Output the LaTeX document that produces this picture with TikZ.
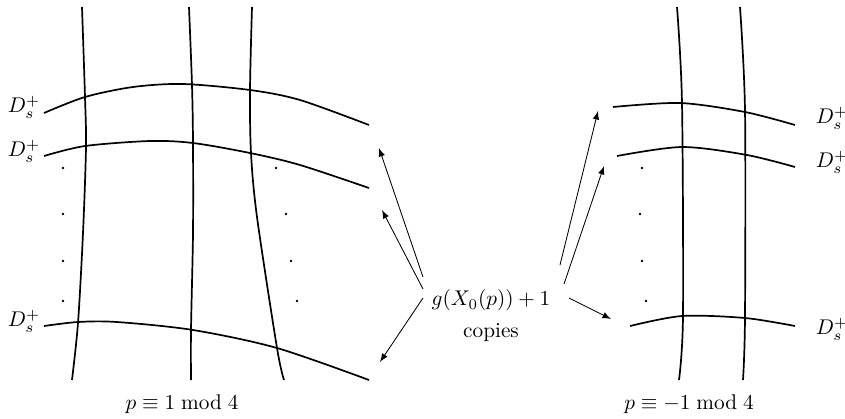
\documentclass[tikz,border=0pt]{standalone}
\usetikzlibrary{arrows}
\tikzset{sheet/.style={x=0.47pt,y=-0.47pt},
  curve/.style={thick},
  copyarrow/.style={-latex,thin},
  dlabel/.style={inner sep=1pt},
  dotmark/.style={circle,fill,inner sep=0pt,minimum size=1.3pt}}

\begin{document}
\begin{tikzpicture}[sheet]
    \useasboundingbox (0,0) rectangle (845,418);
    % left: p = 1 mod 4
    \draw[curve] plot[smooth] coordinates {(82,7) (85,97) (86,147) (83,233) (78,323) (72,380)};
    \draw[curve] plot[smooth] coordinates {(189,7) (192,85) (193,143) (193,233) (191,330) (191,380)};
    \draw[curve] plot[smooth] coordinates {(252,7) (250,90) (251,153) (257,217) (277,348) (284,380)};
    \draw[curve] plot[smooth] coordinates {(44,113) (85,97) (133,87) (183,84) (250,90) (300,100) (369,125)};
    \draw[curve] plot[smooth] coordinates {(44,156) (85,146) (150,141) (193,143) (250,153) (300,165) (369,188)};
    \draw[curve] plot[smooth] coordinates {(44,326) (78,322) (117,322) (193,330) (277,348) (369,380)};
    \node[dlabel] (dl1) at (24,107) {$D_s^+$};
    \node[dlabel] (dl2) at (24,151) {$D_s^+$};
    \node[dlabel] (dl3) at (24,321) {$D_s^+$};
    \foreach \y in {168,214,261,301} \node[dotmark] at (63,\y) {};
    \foreach \x/\y in {276/168,286/214,291/261,297/301} \node[dotmark] at (\x,\y) {};
    \node (modl) at (182,404) {$p\equiv 1 \bmod 4$};
    % right: p = -1 mod 4
    \draw[curve] plot[smooth] coordinates {(677,7) (682,103) (683,316) (679,380)};
    \draw[curve] plot[smooth] coordinates {(740,7) (745,110) (745,317) (743,380)};
    \draw[curve] plot[smooth] coordinates {(613,107) (680,103) (745,112) (795,125)};
    \draw[curve] plot[smooth] coordinates {(617,156) (682,147) (747,155) (795,167)};
    \draw[curve] plot[smooth] coordinates {(630,326) (682,316) (745,318) (795,326)};
    \node[dlabel] (dr1) at (832,118) {$D_s^+$};
    \node[dlabel] (dr2) at (832,162) {$D_s^+$};
    \node[dlabel] (dr3) at (832,329) {$D_s^+$};
    \foreach \x/\y in {642/168,640/214,642/261,646/301} \node[dotmark] at (\x,\y) {};
    \node (modr) at (689,404) {$p\equiv -1 \bmod 4$};
    % copies
    \node[align=center] (cp) at (491,316) {$g(X_0(p))+1$\\[3pt]copies};
    \coordinate (la) at (423,277); \coordinate (lha) at (379,148);
    \coordinate (lb) at (423,289); \coordinate (lhb) at (382,210);
    \coordinate (lc) at (423,298); \coordinate (lhc) at (380,362);
    \coordinate (ra) at (560,265); \coordinate (rha) at (598,111);
    \coordinate (rb) at (564,284); \coordinate (rhb) at (604,166);
    \coordinate (rc) at (569,298); \coordinate (rhc) at (611,319);
    \draw[copyarrow] (la) -- (lha);
    \draw[copyarrow] (lb) -- (lhb);
    \draw[copyarrow] (lc) -- (lhc);
    \draw[copyarrow] (ra) -- (rha);
    \draw[copyarrow] (rb) -- (rhb);
    \draw[copyarrow] (rc) -- (rhc);
\end{tikzpicture}
\end{document}
